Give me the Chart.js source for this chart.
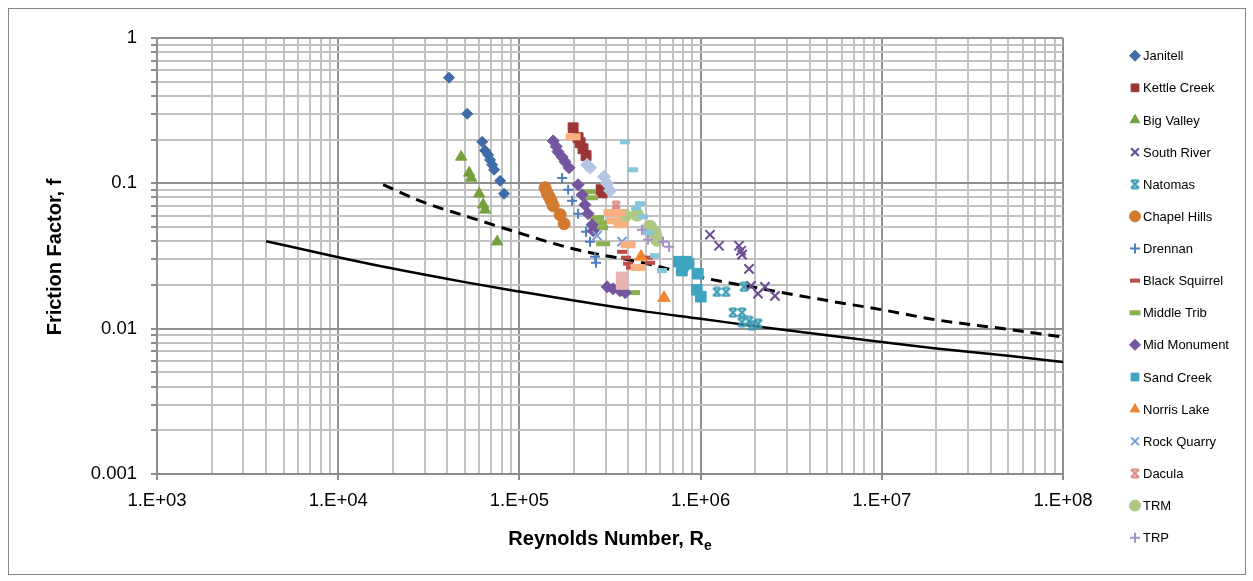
<!DOCTYPE html>
<html>
<head>
<meta charset="utf-8">
<script src="https://cdn.jsdelivr.net/npm/chart.js@4.4.1/dist/chart.umd.min.js"></script>
<style>
  html, body { margin: 0; padding: 0; background: #fff; }
  #wrap { width: 1253px; height: 581px; }
</style>
</head>
<body>
<div id="wrap"><canvas id="friction-chart" width="1253" height="581"></canvas></div>
<script>
// friction factor vs Reynolds number, log-log scatter

// 1. Data
const seriesNames = ['Janitell', 'Kettle Creek', 'Big Valley', 'South River', 'Natomas', 'Chapel Hills',
  'Drennan', 'Black Squirrel', 'Middle Trib', 'Mid Monument', 'Sand Creek', 'Norris Lake',
  'Rock Quarry', 'Dacula', 'TRM', 'TRP', 'Series17', 'Series18', 'Series19', 'Series20'];

const janitellRe = [40900, 51500, 62300, 64700, 67200, 68900, 70700, 72500, 78300, 82300];
const janitellF = [0.533, 0.301, 0.193, 0.168, 0.157, 0.145, 0.134, 0.124, 0.104, 0.0848];
const kettleRe = [197900, 210800, 216300, 224400, 233300, 282400, 286000];
const kettleF = [0.241, 0.206, 0.190, 0.173, 0.155, 0.0904, 0.086];
const bigValleyRe = [47700, 52800, 54200, 60000, 63100, 64700, 75400];
const bigValleyF = [0.152, 0.118, 0.109, 0.0847, 0.0712, 0.0657, 0.0397];
const southRiverRe = [1127000, 1264000, 1630000, 1672000, 1694000, 1850000, 1897000, 2074000, 2266000, 2573000];
const southRiverF = [0.0443, 0.0372, 0.0372, 0.0344, 0.0323, 0.0258, 0.0197, 0.0174, 0.0194, 0.0168];
const natomasRe = [1231000, 1380000, 1509000, 1691000, 1691000, 1735000, 1850000, 1923000, 2074000];
const natomasF = [0.0179, 0.0179, 0.0129, 0.0129, 0.0111, 0.0194, 0.0113, 0.0105, 0.0108];
const chapelRe = [138600, 142200, 145900, 149700, 153600, 167900, 176500];
const chapelF = [0.0933, 0.0862, 0.0809, 0.0759, 0.0701, 0.0608, 0.0527];
const drennanRe = [172100, 185800, 195400, 210800, 233300, 245500, 261600, 264700];
const drennanF = [0.109, 0.0904, 0.0759, 0.0618, 0.0465, 0.0397, 0.0313, 0.0284];
const blackSquirrelRe = [368500, 387600, 397800, 413000, 512800, 526000];
const blackSquirrelF = [0.0338, 0.0308, 0.0280, 0.0263, 0.0308, 0.0284];
const middleTribRe = [242300, 248500, 268300, 278600, 282400, 289700, 424000];
const middleTribF = [0.0875, 0.0796, 0.0580, 0.0536, 0.0495, 0.0384, 0.0177];
const midMonumentRe = [153600, 159600, 163300, 172100, 178600, 187900, 210800, 221800, 230100, 239300, 251800, 255300, 304800, 328900, 359700, 383700];
const midMonumentF = [0.196, 0.179, 0.165, 0.152, 0.141, 0.128, 0.0978, 0.0834, 0.0712, 0.0618, 0.0519, 0.0472, 0.0194, 0.0188, 0.0182, 0.0177];
const sandCreekRe = [760000, 799800, 831200, 859000, 788800, 966100, 953600, 1003000];
const sandCreekF = [0.0289, 0.0271, 0.0289, 0.0280, 0.0251, 0.0239, 0.0185, 0.0166];
const norrisRe = [469000, 628000];
const norrisF = [0.0313, 0.0163];
const rockQuarryRe = [268300, 368500];
const rockQuarryF = [0.0436, 0.0397];
const daculaRe = [341500, 341500];
const daculaF = [0.0701, 0.0658];
const trmRe = [382800, 445700, 526000, 560000, 574000];
const trmF = [0.0598, 0.0608, 0.0503, 0.0450, 0.0409];
const trpRe = [475000, 512800, 620900, 669900];
const trpF = [0.0480, 0.0409, 0.0397, 0.0366];
// series past the end of the legend
const series17Re = [382800, 424000, 463400, 440300, 481000, 512800, 560000, 612400];
const series17F = [0.193, 0.124, 0.0724, 0.0679, 0.0589, 0.0457, 0.0318, 0.0251];
const series18Re = [197900, 320600, 350600, 333400, 364100, 397800, 451900];
const series18F = [0.209, 0.0628, 0.0628, 0.0553, 0.0519, 0.0378, 0.0263];
const series19Re = [236200, 245500, 293000, 304800, 316500];
const series19F = [0.134, 0.128, 0.111, 0.0994, 0.0890];
const series20Re = [368500, 368500];
const series20F = [0.0224, 0.0204];

// the two reference curves
const smoothRe = [4000, 10000, 20000, 50000, 100000, 200000, 500000, 1e6, 2e6, 5e6, 1e7, 2e7, 5e7, 1e8];
const smoothF = [0.0400, 0.0310, 0.0259, 0.0209, 0.0180, 0.0156, 0.0131, 0.0117, 0.0104, 0.0090, 0.0081, 0.0073, 0.0065, 0.0059];
const roughRe = [17700, 30000, 50000, 100000, 200000, 500000, 1e6, 2e6, 5e6, 1e7, 2e7, 5e7, 1e8];
const roughF = [0.0978, 0.0736, 0.0598, 0.0455, 0.0353, 0.0281, 0.0226, 0.0192, 0.0156, 0.0135, 0.0115, 0.0099, 0.00875];

const xTickLabels = ['1.E+03', '1.E+04', '1.E+05', '1.E+06', '1.E+07', '1.E+08'];
const yTickLabels = ['0.001', '0.01', '0.1', '1'];

const seriesRe = [janitellRe, kettleRe, bigValleyRe, southRiverRe, natomasRe, chapelRe, drennanRe,
  blackSquirrelRe, middleTribRe, midMonumentRe, sandCreekRe, norrisRe, rockQuarryRe, daculaRe,
  trmRe, trpRe, series17Re, series18Re, series19Re, series20Re];
const seriesF = [janitellF, kettleF, bigValleyF, southRiverF, natomasF, chapelF, drennanF,
  blackSquirrelF, middleTribF, midMonumentF, sandCreekF, norrisF, rockQuarryF, daculaF,
  trmF, trpF, series17F, series18F, series19F, series20F];

// 2. Marker looks (Excel style)
function hourglass(color) {
  const c = document.createElement('canvas');
  c.width = 11; c.height = 11;
  const g = c.getContext('2d');
  g.strokeStyle = color;
  g.lineWidth = 2.2;
  g.beginPath();
  g.moveTo(1.5, 1.5); g.lineTo(9.5, 9.5);
  g.moveTo(9.5, 1.5); g.lineTo(1.5, 9.5);
  g.moveTo(2.5, 1.5); g.lineTo(8.5, 1.5);
  g.moveTo(2.5, 9.5); g.lineTo(8.5, 9.5);
  g.stroke();
  return c;
}

const markers = [
  { style: 'rectRot', r: 5.5, color: '#3F6CA8', bw: 1 },
  { style: 'rect', r: 7, color: '#9C3634', bw: 1 },
  { style: 'triangle', r: 6.5, color: '#76A03C', bw: 1 },
  { style: 'crossRot', r: 6.5, color: '#6A4B8F', bw: 2 },
  { style: hourglass('#3A9AB2'), r: 5, color: '#3A9AB2', bw: 2 },
  { style: 'circle', r: 6, color: '#D17A30', bw: 1 },
  { style: 'cross', r: 5, color: '#4A7EBE', bw: 2 },
  { style: 'line', r: 5, color: '#BE4B48', bw: 4 },
  { style: 'line', r: 7, color: '#8CB04F', bw: 5 },
  { style: 'rectRot', r: 6, color: '#7455A0', bw: 1 },
  { style: 'rect', r: 7.5, color: '#3FA4BF', bw: 1 },
  { style: 'triangle', r: 7, color: '#F08530', bw: 1 },
  { style: 'crossRot', r: 6.5, color: '#7A9CD4', bw: 2 },
  { style: hourglass('#D98A88'), r: 5, color: '#D98A88', bw: 2 },
  { style: 'circle', r: 6.5, color: '#AFC985', bw: 1 },
  { style: 'cross', r: 5, color: '#A291C6', bw: 2 },
  { style: 'line', r: 5, color: '#86C6DB', bw: 5 },
  { style: 'line', r: 7.5, color: '#F9B080', bw: 7 },
  { style: 'rectRot', r: 6.5, color: '#B3C7E4', bw: 1 },
  { style: 'rect', r: 8, color: '#E6B4B3', bw: 1 },
];

const FONT = "'Liberation Sans', Arial, sans-serif";
const legendCount = 16;

function isDecade(v) {
  const l = Math.log10(v);
  return Math.abs(l - Math.round(l)) < 1e-9;
}
function logTicks(fromExp, toExp) {
  const out = [];
  for (let e = fromExp; e < toExp; e++) {
    for (let m = 1; m <= 9; m++) out.push({ value: m * Math.pow(10, e) });
  }
  out.push({ value: Math.pow(10, toExp) });
  return out;
}

// 3. Datasets
const datasets = [];
seriesNames.forEach((name, i) => {
  const m = markers[i];
  datasets.push({
    label: name,
    data: seriesRe[i].map((x, j) => ({ x: x, y: seriesF[i][j] })),
    pointStyle: m.style,
    pointRadius: m.r,
    pointHoverRadius: m.r,
    backgroundColor: m.color,
    borderColor: m.color,
    pointBorderWidth: m.bw,
    showLine: false,
    order: seriesNames.length - i,
  });
});
datasets.push({
  label: 'smooth',
  data: smoothRe.map((x, j) => ({ x: x, y: smoothF[j] })),
  showLine: true,
  borderColor: '#000',
  borderWidth: 2.5,
  pointRadius: 0,
  cubicInterpolationMode: 'monotone',
  order: 100,
});
datasets.push({
  label: 'rough',
  data: roughRe.map((x, j) => ({ x: x, y: roughF[j] })),
  showLine: true,
  borderColor: '#000',
  borderWidth: 3,
  borderDash: [11, 7],
  pointRadius: 0,
  cubicInterpolationMode: 'monotone',
  order: 101,
});

// 4. Titles, legend and frame drawn by hand
const decorPlugin = {
  id: 'decor',
  beforeDraw(chart) {
    const ctx = chart.ctx;
    ctx.save();
    ctx.fillStyle = '#fff';
    ctx.fillRect(0, 0, chart.width, chart.height);
    ctx.strokeStyle = '#868686';
    ctx.lineWidth = 1;
    ctx.strokeRect(8.5, 8.5, 1237, 566);
    ctx.restore();
  },
  afterDraw(chart) {
    const ctx = chart.ctx;
    ctx.save();
    ctx.fillStyle = '#000';
    // y title
    ctx.save();
    ctx.translate(61, 257);
    ctx.rotate(-Math.PI / 2);
    ctx.font = 'bold 20px ' + FONT;
    ctx.textAlign = 'center';
    ctx.textBaseline = 'alphabetic';
    ctx.fillText('Friction Factor, f', 0, 0);
    ctx.restore();
    // x title with subscript
    const main = 'Reynolds Number, R';
    ctx.font = 'bold 20px ' + FONT;
    const w1 = ctx.measureText(main).width;
    ctx.font = 'bold 14px ' + FONT;
    const w2 = ctx.measureText('e').width;
    const x0 = 610 - (w1 + w2) / 2;
    ctx.textAlign = 'left';
    ctx.textBaseline = 'alphabetic';
    ctx.font = 'bold 20px ' + FONT;
    ctx.fillText(main, x0, 545);
    ctx.font = 'bold 14px ' + FONT;
    ctx.fillText('e', x0 + w1, 550);
    // legend
    ctx.font = '13px ' + FONT;
    ctx.textBaseline = 'middle';
    for (let i = 0; i < legendCount; i++) {
      const y = 55.7 + 32.13 * i;
      const m = markers[i];
      ctx.fillStyle = m.color;
      ctx.strokeStyle = m.color;
      ctx.lineWidth = m.bw;
      Chart.helpers.drawPoint(ctx, { pointStyle: m.style, radius: Math.min(m.r, 5.5), rotation: 0, borderWidth: m.bw }, 1135, y);
      ctx.fillStyle = '#000';
      ctx.fillText(seriesNames[i], 1143, y + 1);
    }
    ctx.restore();
  },
};

// 5. Chart configuration
const config = {
  type: 'scatter',
  data: { datasets: datasets },
  options: {
    responsive: false,
    animation: false,
    devicePixelRatio: 1,
    layout: { padding: { left: 0, right: 190, top: 38, bottom: 0 } },
    plugins: { legend: { display: false }, tooltip: { enabled: false } },
    scales: {
      x: {
        type: 'logarithmic',
        min: 1000,
        max: 1e8,
        afterBuildTicks: (s) => { s.ticks = logTicks(3, 8); },
        afterFit: (s) => { s.height = 107; },
        border: { color: '#8C8C8C', width: 1.5 },
        grid: {
          color: (c) => isDecade(c.tick.value) ? '#8F8F8F' : '#C2C2C2',
          lineWidth: 2,
          tickLength: 6,
          tickColor: (c) => isDecade(c.tick.value) ? '#8C8C8C' : 'rgba(0,0,0,0)',
        },
        ticks: {
          autoSkip: false,
          maxRotation: 0,
          padding: 10,
          color: '#000',
          font: { family: FONT, size: 18.5 },
          callback: (v) => isDecade(v) ? xTickLabels[Math.round(Math.log10(v)) - 3] : '',
        },
      },
      y: {
        type: 'logarithmic',
        min: 0.001,
        max: 1,
        afterBuildTicks: (s) => { s.ticks = logTicks(-3, 0); },
        afterFit: (s) => { s.width = 157; },
        border: { color: '#8C8C8C', width: 1.5 },
        grid: {
          color: (c) => isDecade(c.tick.value) ? '#8F8F8F' : '#C2C2C2',
          lineWidth: 2,
          tickLength: 6,
          tickColor: '#8C8C8C',
        },
        ticks: {
          autoSkip: false,
          padding: 14,
          color: '#000',
          font: { family: FONT, size: 18.5 },
          callback: (v) => isDecade(v) ? yTickLabels[Math.round(Math.log10(v)) + 3] : '',
        },
      },
    },
  },
  plugins: [decorPlugin],
};

const frictionChart = new Chart(document.getElementById('friction-chart').getContext('2d'), config);
</script>
</body>
</html>
